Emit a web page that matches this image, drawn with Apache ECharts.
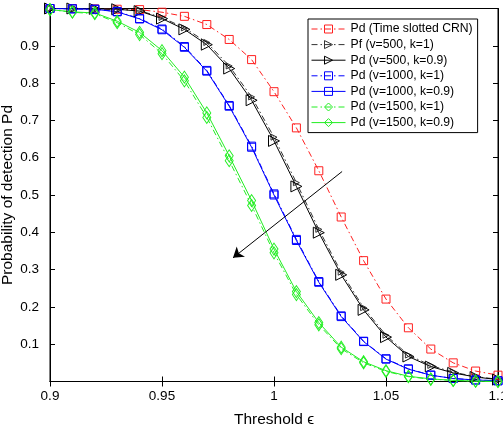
<!DOCTYPE html>
<html>
<head>
<meta charset="utf-8">
<script src="https://cdn.jsdelivr.net/npm/echarts@6/dist/echarts.min.js"></script>
<style>html,body{margin:0;padding:0;background:#fff}#c{width:503px;height:432px}</style>
</head>
<body>
<div id="c"></div>
<script>
var thresholds = [0.90,0.91,0.92,0.93,0.94,0.95,0.96,0.97,0.98,0.99,1.00,1.01,1.02,1.03,1.04,1.05,1.06,1.07,1.08,1.09,1.10];
var pdTimeSlotted = [1.0,1.0,0.999,0.998,0.997,0.99,0.979,0.957,0.917,0.863,0.777,0.68,0.565,0.441,0.324,0.221,0.144,0.087,0.05,0.028,0.017];
var pf500k1 = [1.0,1.0,0.999,0.998,0.994,0.976,0.948,0.909,0.846,0.763,0.655,0.533,0.408,0.293,0.198,0.124,0.071,0.043,0.025,0.013,0.006];
var pd500k09 = [1.0,1.0,0.999,0.998,0.993,0.973,0.944,0.903,0.839,0.754,0.645,0.523,0.399,0.286,0.192,0.119,0.067,0.04,0.023,0.012,0.005];
var pd1000k1 = [1.0,0.999,0.998,0.992,0.973,0.945,0.898,0.834,0.740,0.631,0.503,0.381,0.268,0.176,0.108,0.061,0.034,0.017,0.008,0.004,0.002];
var pd1000k09 = [1.0,0.999,0.998,0.991,0.972,0.943,0.896,0.832,0.738,0.628,0.5,0.378,0.266,0.174,0.107,0.06,0.033,0.017,0.008,0.004,0.002];
var pd1500k1 = [0.997,0.99,0.986,0.962,0.93,0.879,0.806,0.708,0.592,0.472,0.345,0.233,0.152,0.088,0.05,0.027,0.013,0.006,0.003,0.001,0.0];
var pd1500k09 = [0.997,0.991,0.988,0.966,0.936,0.887,0.816,0.72,0.605,0.485,0.355,0.241,0.158,0.092,0.053,0.029,0.014,0.007,0.003,0.001,0.0];
var seriesNames = ['Pd (Time slotted CRN)','Pf (v=500, k=1)','Pd (v=500, k=0.9)','Pd (v=1000, k=1)','Pd (v=1000, k=0.9)','Pd (v=1500, k=1)','Pd (v=1500, k=0.9)'];
var arrowStart = [1.0304, 0.563];
var arrowEnd = [0.9817, 0.3315];

function pairs(ys){ return thresholds.map(function(x,i){ return [x, ys[i]]; }); }
var dashDot = [6,3,1.5,3];
function mk(name, ys, color, dash, symbol, size, rotate){
  return {
    name: name, type: 'line', data: pairs(ys),
    symbol: symbol, symbolSize: size, symbolRotate: rotate || 0,
    showAllSymbol: true,
    lineStyle: {color: color, width: 1, type: dash},
    itemStyle: {color: 'rgba(255,255,255,0)', borderColor: color, borderWidth: 1},
    emphasis: {disabled: true}
  };
}
var series = [
  mk(seriesNames[0], pdTimeSlotted, '#ff2020', dashDot, 'rect', 8),
  mk(seriesNames[1], pf500k1, '#333333', dashDot, 'triangle', 6, -90),
  mk(seriesNames[2], pd500k09, '#000000', 'solid', 'triangle', 11, -90),
  mk(seriesNames[3], pd1000k1, '#0000ff', dashDot, 'rect', 8),
  mk(seriesNames[4], pd1000k09, '#0000ff', 'solid', 'rect', 8),
  mk(seriesNames[5], pd1500k1, '#22ee22', dashDot, 'diamond', [8,12]),
  mk(seriesNames[6], pd1500k09, '#22ee22', 'solid', 'diamond', [8,12])
];
series[0].markLine = {
  silent: true, animation: false,
  symbol: ['none','arrow'], symbolSize: 10,
  label: {show: false},
  lineStyle: {color: '#000', width: 1, type: 'solid'},
  itemStyle: {color: '#000'},
  data: [[{coord: arrowStart}, {coord: arrowEnd}]]
};

var font = "'Liberation Sans', Arial, Helvetica, sans-serif";
var chart = echarts.init(document.getElementById('c'), null, {renderer: 'canvas'});
chart.setOption({
  animation: false,
  backgroundColor: '#fff',
  grid: {left: 50, right: 5, top: 8.5, bottom: 50.5, containLabel: false, outerBoundsMode: 'none',
         show: true, borderColor: '#000', borderWidth: 1},
  legend: {
    orient: 'vertical', left: 308, top: 19,
    data: seriesNames,
    itemWidth: 34, itemHeight: 10, itemGap: 3.6,
    padding: [4, 5, 4, 3],
    backgroundColor: '#fff', borderColor: '#000', borderWidth: 1,
    lineStyle: {width: 1},
    itemStyle: {borderWidth: 1},
    textStyle: {fontFamily: font, fontSize: 12.2, color: '#000'},
    selectedMode: false
  },
  xAxis: [{
    type: 'value', min: 0.9, max: 1.1, interval: 0.05,
    name: 'Threshold \u03F5', nameLocation: 'middle', nameGap: 30, nameMoveOverlap: false,
    nameTextStyle: {fontFamily: font, fontSize: 15.5, color: '#000'},
    axisLine: {show: true, lineStyle: {color: '#000'}},
    axisTick: {inside: true, length: 5, lineStyle: {color: '#000'}},
    axisLabel: {fontFamily: font, fontSize: 13.5, color: '#000', margin: 8,
      formatter: function(v){ return String(parseFloat(v.toFixed(2))); }},
    splitLine: {show: false}
  },{
    type: 'value', min: 0.9, max: 1.1, interval: 0.05, position: 'top',
    axisLine: {show: true, lineStyle: {color: '#000'}},
    axisTick: {inside: true, length: 5, lineStyle: {color: '#000'}},
    axisLabel: {show: false}, splitLine: {show: false}
  }],
  yAxis: [{
    type: 'value', min: 0, max: 1, interval: 0.1,
    name: 'Probability of detection Pd', nameLocation: 'middle', nameGap: 34, nameMoveOverlap: false,
    nameTextStyle: {fontFamily: font, fontSize: 15.5, color: '#000'},
    axisLine: {show: true, lineStyle: {color: '#000'}},
    axisTick: {inside: true, length: 5, lineStyle: {color: '#000'}},
    axisLabel: {fontFamily: font, fontSize: 13.5, color: '#000', margin: 11,
      formatter: function(v){ var r = parseFloat(v.toFixed(2)); return (r <= 0 || r >= 1) ? '' : String(r); }},
    splitLine: {show: false}
  },{
    type: 'value', min: 0, max: 1, interval: 0.1, position: 'right',
    axisLine: {show: true, lineStyle: {color: '#000'}},
    axisTick: {inside: true, length: 5, lineStyle: {color: '#000'}},
    axisLabel: {show: false}, splitLine: {show: false}
  }],
  series: series
});
</script>
</body>
</html>
